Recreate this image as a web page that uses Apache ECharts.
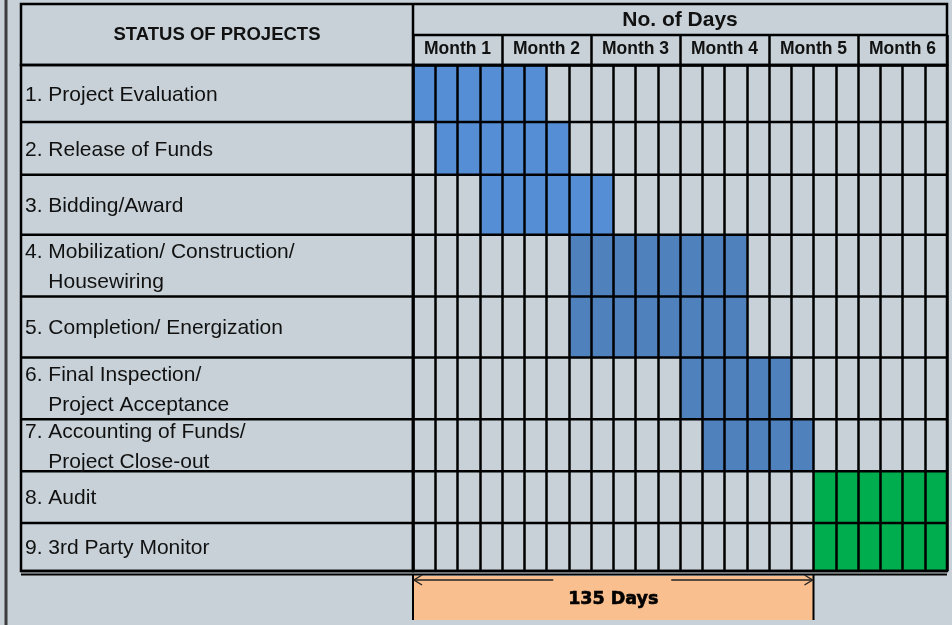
<!DOCTYPE html>
<html>
<head>
<meta charset="utf-8">
<script src="https://cdn.jsdelivr.net/npm/echarts@6/dist/echarts.min.js"></script>
<style>
  html, body { margin: 0; padding: 0; background: #c7d1d7; }
  #main { width: 952px; height: 625px; }
</style>
</head>
<body>
<div id="main"></div>
<script>
// rows of the schedule
const tasks = [
  '1. Project Evaluation',
  '2. Release of Funds',
  '3. Bidding/Award',
  '4. Mobilization/ Construction/\n    Housewiring',
  '5. Completion/ Energization',
  '6. Final Inspection/\n    Project Acceptance',
  '7. Accounting of Funds/\n    Project Close-out',
  '8. Audit',
  '9. 3rd Party Monitor'
]
// start and length in week columns (4 columns per month)
const startWeek = [0, 1, 3, 7, 7, 12, 13, 18, 18]
const durationWeeks = [6, 6, 6, 8, 8, 5, 5, 6, 6]
// 0 = preparation, 1 = works, 2 = after completion
const phase = [0, 0, 0, 1, 1, 1, 1, 2, 2]
const months = ['Month 1', 'Month 2', 'Month 3', 'Month 4', 'Month 5', 'Month 6']
const weeksPerMonth = 4
const daysPerWeek = 7.5
const totalDays = 135

// layout: spreadsheet row heights (relative)
const rowHeights = [57, 53, 60, 62, 61, 62, 52, 52, 48]
const phaseColors = ['#558ed5', '#4f81bd', '#00ad4e']
const FONT = '"Liberation Sans", Arial, sans-serif'
const LINE = '#000'
const LW = 2.5

const totalWeeks = months.length * weeksPerMonth
const rowSum = rowHeights.reduce((a, b) => a + b, 0)
const rows = []
let acc = 0
rowHeights.forEach((h, i) => {
  rows.push([i, acc, acc + h])
  acc += h
})
const bars = tasks.map((t, i) => [i, startWeek[i], startWeek[i] + durationWeeks[i], rows[i][1], rows[i][2], phase[i]])

const chart = echarts.init(document.getElementById('main'))

const option = {
  backgroundColor: '#c7d1d7',
  animation: false,
  grid: [
    { left: 21, width: 392, top: 65, height: 506, show: true, borderColor: LINE, borderWidth: LW, z: 6 },
    { left: 413, right: 5, top: 65, height: 506, show: true, borderColor: LINE, borderWidth: LW, z: 6 },
    { left: 413, right: 5, top: 576, height: 44 }
  ],
  xAxis: [
    { gridIndex: 0, type: 'value', min: 0, max: 1, show: false },
    {
      gridIndex: 1,
      type: 'value',
      min: 0,
      max: totalWeeks,
      interval: 1,
      z: 5,
      axisLine: { show: false },
      axisTick: { show: false },
      axisLabel: { show: false },
      splitLine: { show: true, lineStyle: { color: LINE, width: LW } }
    },
    {
      gridIndex: 1,
      type: 'category',
      position: 'top',
      data: months,
      z: 5,
      axisLine: { show: true, lineStyle: { color: LINE, width: LW } },
      axisTick: { show: true, interval: 0, length: 30, lineStyle: { color: LINE, width: LW } },
      axisLabel: { interval: 0, color: '#111', fontFamily: FONT, fontWeight: 'bold', fontSize: 17.5, margin: 7 },
      splitLine: { show: false }
    },
    { gridIndex: 2, type: 'value', min: 0, max: totalWeeks, show: false }
  ],
  yAxis: [
    { gridIndex: 0, type: 'value', min: 0, max: rowSum, inverse: true, show: false },
    { gridIndex: 1, type: 'value', min: 0, max: rowSum, inverse: true, show: false },
    { gridIndex: 2, type: 'value', min: 0, max: 1, inverse: true, show: false }
  ],
  graphic: [
    { type: 'line', shape: { x1: 6, y1: 0, x2: 6, y2: 625 }, style: { stroke: '#3c3c3c', lineWidth: 3 } },
    { type: 'rect', shape: { x: 21, y: 4, width: 926, height: 61 }, style: { fill: 'none', stroke: LINE, lineWidth: LW } },
    { type: 'line', shape: { x1: 413, y1: 4, x2: 413, y2: 65 }, style: { stroke: LINE, lineWidth: LW } },
    { type: 'line', shape: { x1: 413, y1: 35, x2: 947, y2: 35 }, style: { stroke: LINE, lineWidth: LW } },
    { type: 'line', shape: { x1: 21, y1: 574.5, x2: 947, y2: 574.5 }, style: { stroke: LINE, lineWidth: 2 } },
    {
      type: 'text', x: 217, y: 35,
      style: { text: 'STATUS OF PROJECTS', font: 'bold 18.5px ' + FONT, fill: '#111', align: 'center', verticalAlign: 'middle' }
    },
    {
      type: 'text', x: 680, y: 20,
      style: { text: 'No. of Days', font: 'bold 21px ' + FONT, fill: '#111', align: 'center', verticalAlign: 'middle' }
    }
  ],
  series: [
    {
      // task names and row lines of the left column
      type: 'custom',
      xAxisIndex: 0,
      yAxisIndex: 0,
      z: 7,
      data: rows,
      renderItem: function (params, api) {
        const i = api.value(0)
        const p0 = api.coord([0, api.value(1)])
        const p1 = api.coord([1, api.value(2)])
        return {
          type: 'group',
          children: [
            { type: 'line', shape: { x1: p0[0], y1: p1[1], x2: p1[0], y2: p1[1] }, style: { stroke: LINE, lineWidth: LW } },
            {
              type: 'text',
              x: p0[0] + 4,
              y: (p0[1] + p1[1]) / 2 + 1.5,
              style: { text: tasks[i], font: '21px ' + FONT, fill: '#111', verticalAlign: 'middle', lineHeight: 30 }
            }
          ]
        }
      }
    },
    {
      // schedule bars
      type: 'custom',
      xAxisIndex: 1,
      yAxisIndex: 1,
      z: 2,
      data: bars,
      renderItem: function (params, api) {
        const p0 = api.coord([api.value(1), api.value(3)])
        const p1 = api.coord([api.value(2), api.value(4)])
        return {
          type: 'rect',
          shape: { x: p0[0], y: p0[1], width: p1[0] - p0[0], height: p1[1] - p0[1] },
          style: { fill: phaseColors[api.value(5)] }
        }
      }
    },
    {
      // horizontal row lines of the day grid
      type: 'custom',
      xAxisIndex: 1,
      yAxisIndex: 1,
      z: 7,
      data: rows,
      renderItem: function (params, api) {
        const p0 = api.coord([0, api.value(2)])
        const p1 = api.coord([totalWeeks, api.value(2)])
        return { type: 'line', shape: { x1: p0[0], y1: p0[1], x2: p1[0], y2: p1[1] }, style: { stroke: LINE, lineWidth: LW } }
      }
    },
    {
      // total duration bracket
      type: 'custom',
      xAxisIndex: 3,
      yAxisIndex: 2,
      z: 3,
      data: [[0, totalDays / daysPerWeek]],
      renderItem: function (params, api) {
        const p0 = api.coord([api.value(0), 0])
        const p1 = api.coord([api.value(1), 1])
        const x0 = p0[0]
        const x1 = p1[0]
        const xm = (x0 + x1) / 2
        const ya = p0[1] + 4
        const ink = { stroke: '#222', lineWidth: 1.4, fill: 'none' }
        return {
          type: 'group',
          children: [
            { type: 'rect', shape: { x: x0, y: p0[1], width: x1 - x0, height: p1[1] - p0[1] }, style: { fill: '#f9bf8f' } },
            { type: 'line', shape: { x1: x0, y1: p0[1] - 1, x2: x0, y2: p1[1] }, style: { stroke: LINE, lineWidth: 2 } },
            { type: 'line', shape: { x1: x1, y1: p0[1] - 1, x2: x1, y2: p1[1] }, style: { stroke: LINE, lineWidth: 2 } },
            { type: 'line', shape: { x1: x0 + 1, y1: ya, x2: xm - 60, y2: ya }, style: ink },
            { type: 'line', shape: { x1: xm + 58, y1: ya, x2: x1 - 1, y2: ya }, style: ink },
            { type: 'polyline', shape: { points: [[x0 + 9, ya - 5], [x0 + 1, ya], [x0 + 9, ya + 5]] }, style: ink },
            { type: 'polyline', shape: { points: [[x1 - 9, ya - 5], [x1 - 1, ya], [x1 - 9, ya + 5]] }, style: ink },
            {
              type: 'text',
              x: xm,
              y: (p0[1] + p1[1]) / 2 + 1,
              style: {
                text: totalDays + ' Days',
                font: 'bold 17.5px "DejaVu Sans", sans-serif',
                fill: '#000',
                stroke: '#000',
                lineWidth: 0.6,
                align: 'center',
                verticalAlign: 'middle'
              }
            }
          ]
        }
      }
    }
  ]
}

chart.setOption(option)
</script>
</body>
</html>
